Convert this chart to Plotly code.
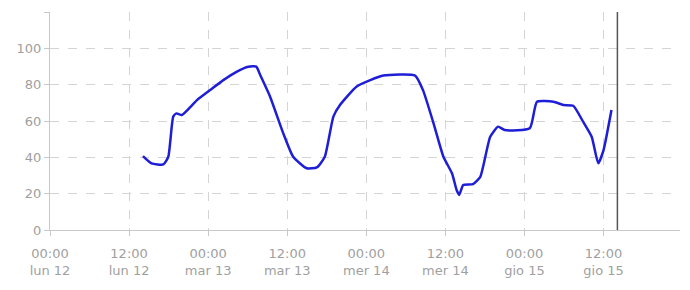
import plotly.graph_objects as go

times = ["2022-09-12 14:06", "2022-09-12 15:24", "2022-09-12 17:12", "2022-09-12 17:57",
         "2022-09-12 18:42", "2022-09-12 19:12", "2022-09-12 20:00", "2022-09-12 22:18",
         "2022-09-13 00:18", "2022-09-13 02:18", "2022-09-13 04:18", "2022-09-13 06:06",
         "2022-09-13 07:18", "2022-09-13 07:54", "2022-09-13 09:24", "2022-09-13 11:24",
         "2022-09-13 12:54", "2022-09-13 14:57", "2022-09-13 16:30", "2022-09-13 17:42",
         "2022-09-13 19:00", "2022-09-13 20:00", "2022-09-13 22:30", "2022-09-14 00:36",
         "2022-09-14 02:36", "2022-09-14 07:24", "2022-09-14 08:36", "2022-09-14 10:12",
         "2022-09-14 11:42", "2022-09-14 13:00", "2022-09-14 13:42", "2022-09-14 14:06",
         "2022-09-14 14:42", "2022-09-14 16:12", "2022-09-14 17:18", "2022-09-14 18:48",
         "2022-09-14 20:00", "2022-09-14 21:00", "2022-09-15 00:48", "2022-09-15 01:54",
         "2022-09-15 04:24", "2022-09-15 05:54", "2022-09-15 07:24", "2022-09-15 08:54",
         "2022-09-15 10:12", "2022-09-15 11:12", "2022-09-15 12:00", "2022-09-15 13:12"]
values = [40.7, 36.7, 36.1, 40.3,
          62.4, 64.2, 63.3, 71.5,
          77.0, 82.5, 87.1, 89.9,
          89.9, 85.3, 73.4, 53.2,
          40.3, 34.0, 34.5, 40.3,
          62.4, 68.8, 78.9, 82.5,
          85.0, 85.0, 77.0, 58.7,
          40.3, 31.2, 22.0, 19.3,
          24.8, 25.3, 29.3, 51.3,
          56.9, 55.0, 56.0, 70.6,
          70.6, 68.8, 68.4, 59.6,
          51.3, 36.7, 44.0, 66.0]

tick_times = ["2022-09-12 00:00", "2022-09-12 12:00", "2022-09-13 00:00", "2022-09-13 12:00",
              "2022-09-14 00:00", "2022-09-14 12:00", "2022-09-15 00:00", "2022-09-15 12:00"]
tick_labels = ["00:00<br>lun 12", "12:00<br>lun 12", "00:00<br>mar 13", "12:00<br>mar 13",
               "00:00<br>mer 14", "12:00<br>mer 14", "00:00<br>gio 15", "12:00<br>gio 15"]
y_ticks = [0, 20, 40, 60, 80, 100, 120]
y_labels = ["0", "20", "40", "60", "80", "100", ""]
now_time = "2022-09-15 14:06"
x_range = ["2022-09-12 00:00", "2022-09-15 23:36"]

fig = go.Figure()
fig.add_trace(go.Scatter(x=times, y=values, mode="lines",
                         line=dict(color="rgb(30,30,215)", width=2.5, shape="spline", smoothing=0.5),
                         hoverinfo="skip", showlegend=False))

fig.add_shape(type="line", x0=now_time, x1=now_time, y0=0, y1=120, xref="x", yref="y",
              line=dict(color="#555555", width=1.5))

fig.update_layout(
    width=682, height=282,
    margin=dict(l=42, r=10, t=4, b=60),
    paper_bgcolor="white", plot_bgcolor="white",
    font=dict(family="DejaVu Sans", size=13, color="#a0a0a0"),
    xaxis=dict(type="date", range=x_range, tickvals=tick_times, ticktext=tick_labels,
               showgrid=True, gridcolor="#d4d4d4", griddash="dash", gridwidth=1,
               showline=True, linecolor="#c8c8c8", linewidth=1,
               ticks="outside", ticklen=5, tickcolor="#c8c8c8", automargin=False,
               ticklabelstandoff=6,
               tickfont=dict(size=13, color="#a0a0a0"), zeroline=False),
    yaxis=dict(range=[0, 120], tickvals=y_ticks, ticktext=y_labels,
               showgrid=True, gridcolor="#d4d4d4", griddash="dash", gridwidth=1,
               showline=True, linecolor="#c8c8c8", linewidth=1,
               ticks="outside", ticklen=5, tickcolor="#c8c8c8", automargin=False,
               tickfont=dict(size=13, color="#a0a0a0"), zeroline=False),
)

fig.write_html("out.html")
